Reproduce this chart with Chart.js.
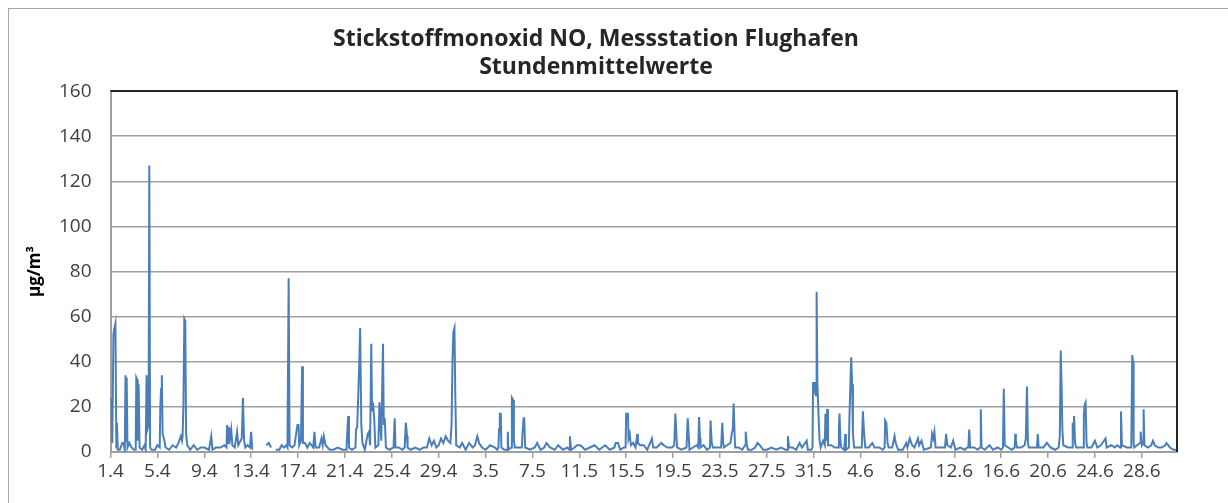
<!DOCTYPE html>
<html>
<head>
<meta charset="utf-8">
<script src="https://cdn.jsdelivr.net/npm/chart.js@4"></script>
<style>
  body { margin: 0; background: #fff; }
</style>
</head>
<body>
<canvas id="grafik" width="1228" height="503"></canvas>
<script>
// Tage seit 1.4. (x) und Stundenmittelwerte in µg/m³ (y), null = Datenlücke
const aprilWerte = [
  [0,24],[0.08,20],[0.15,4],[0.25,52],[0.3,54],[0.42,57],[0.5,2],[0.55,13],[0.62,1],[0.8,1],[1.0,4],[1.1,4],
  [1.22,1],[1.28,34],[1.33,5],[1.38,33],[1.45,2],[1.6,4],[1.8,2],[2.0,1],[2.15,1],[2.2,33],[2.28,32],[2.32,5],
  [2.4,30],[2.48,2],[2.7,1],[2.9,3],[3.0,1],[3.08,34],[3.15,10],[3.25,12],[3.31,127],[3.38,2],[3.5,1],[3.8,1],
  [4.0,3],[4.2,2],[4.25,20],[4.32,28],[4.38,34],[4.45,8],[4.6,5],[4.7,2],[5.0,1],[5.3,3],[5.6,2],[5.8,4],
  [6.0,7],[6.1,5],[6.15,7],[6.22,20],[6.3,59],[6.38,58],[6.45,8],[6.55,3],[6.8,1],[7.1,3],[7.4,1],[7.7,2],
  [8.0,2],[8.4,1],[8.6,7],[8.7,1],[9.0,2],[9.4,2],[9.7,3],[9.9,2],[9.95,12],[10.05,4],[10.1,11],[10.2,6],
  [10.3,10],[10.4,3],[10.6,2],[10.8,9],[10.9,3],[11.2,6],[11.3,24],[11.4,5],[11.5,2],[11.7,3],[11.9,2],[12.0,9],
  [12.1,1],[12.15,1],[12.7,null],[13.3,3],[13.5,4],[13.7,2],[13.9,null],[14.1,1],[14.4,1],[14.6,3],[14.8,2],
  [15.0,3],[15.1,2],[15.2,77],[15.28,3],[15.5,2],[15.7,3],[15.95,12],[16.05,12],[16.1,3],[16.25,5],[16.35,38],
  [16.42,4],[16.6,4],[16.8,2],[17.0,4],[17.3,2],[17.4,9],[17.5,2],[17.8,2],[18.0,6],[18.1,3],[18.2,7],[18.35,3],
  [18.7,1],[19.0,1],[19.4,2],[19.8,1],[20.1,1],[20.15,3],[20.28,16],[20.35,2],[20.6,1],[20.9,2],[20.95,10],
  [21.05,11],[21.22,38],[21.3,55],[21.4,12],[21.5,4],[21.7,1],[21.95,8],[22.05,9],[22.15,3],[22.25,48],[22.32,18],
  [22.4,22],[22.5,15],[22.6,2],[22.85,3],[22.95,22],[23.1,5],[23.25,48],[23.32,12],[23.4,15],[23.5,2],[23.8,1],
  [24.15,2],[24.25,15],[24.32,2],[24.6,2],[24.9,1],[25.1,2],[25.2,13],[25.3,7],[25.35,2],[25.6,1],[26.0,2],
  [26.4,1],[26.7,2],[27.0,2],[27.2,6],[27.4,3],[27.6,5],[27.8,2],[28.0,3],[28.2,6],[28.4,4],[28.6,7],[28.8,5],
  [29.0,4],[29.1,12],[29.18,40],[29.25,53],[29.35,55],[29.42,25],[29.5,3],[29.8,2]
];
const maiWerte = [
  [30.0,4],[30.3,1],[30.6,4],[30.9,2],[31.1,3],[31.3,7],[31.45,4],[31.7,2],[32.0,1],[32.4,3],[32.8,2],[33.0,1],
  [33.1,2],[33.15,10],[33.22,17],[33.3,17],[33.35,2],[33.6,1],[33.85,1],[33.9,9],[33.95,1],[34.2,2],[34.25,24],
  [34.35,23],[34.42,5],[34.5,2],[34.8,2],[35.1,2],[35.15,8],[35.25,15],[35.3,15],[35.38,2],[35.8,1],[36.2,2],
  [36.4,4],[36.7,1],[37.0,2],[37.2,4],[37.5,2],[37.9,1],[38.2,3],[38.6,1],[39.0,2],[39.15,1],[39.2,7],[39.3,1],
  [39.6,2],[39.8,3],[40.1,3],[40.5,1],[40.9,2],[41.3,3],[41.7,1],[42.2,3],[42.6,1],[43.0,2],[43.1,4],[43.3,4],
  [43.5,1],[43.8,2],[43.95,2],[44.0,17],[44.15,17],[44.2,6],[44.3,8],[44.4,3],[44.6,4],[44.8,2],[44.95,8],
  [45.0,4],[45.2,3],[45.5,3],[45.8,1],[46.2,6],[46.3,2],[46.6,2],[47.0,4],[47.2,3],[47.5,2],[47.9,2],[48.1,3],
  [48.2,17],[48.28,8],[48.35,2],[48.7,1],[49.15,2],[49.25,15],[49.35,6],[49.4,1],[49.7,2],[50.0,3],[50.15,2],
  [50.22,15.5],[50.3,6],[50.35,2],[50.6,3],[50.9,1],[51.15,2],[51.2,14],[51.3,4],[51.4,2],[51.7,2],[52.1,2],
  [52.2,13],[52.28,4],[52.35,2],[52.6,3],[52.9,4],[53.0,8],[53.1,10],[53.17,21.5],[53.25,8],[53.3,2],[53.6,2],
  [53.9,1],[54.15,3],[54.2,9],[54.3,3],[54.4,1],[54.7,1],[55.0,2],[55.2,4],[55.4,3],[55.7,1],[56.0,1],[56.4,2],
  [56.8,1],[57.2,2],[57.6,1],[57.75,1],[57.8,7],[57.9,2],[58.2,2],[58.5,1],[58.8,4],[59.0,2],[59.4,5],[59.5,1],
  [59.8,1],[59.9,2],[59.95,31],[60.05,28],[60.12,31],[60.2,25],[60.25,71],[60.32,30],[60.4,18],[60.5,5],
  [60.6,2],[60.8,5]
];
const juniWerte = [
  [60.95,3],[61.0,17],[61.08,5],[61.15,19],[61.22,3],[61.5,3],[61.8,2],[62.1,2],[62.15,10],[62.2,17],[62.28,5],
  [62.35,2],[62.6,1],[62.7,8],[62.75,1],[63.0,2],[63.05,15],[63.2,42],[63.28,30],[63.35,8],[63.45,2],[63.8,2],
  [64.1,2],[64.2,18],[64.3,8],[64.4,2],[64.7,2],[65.0,4],[65.2,2],[65.6,2],[65.9,1],[66.05,2],[66.1,14],
  [66.2,13],[66.3,4],[66.4,2],[66.7,2],[66.9,7],[67.0,4],[67.2,1],[67.6,1],[67.9,4],[68.0,2],[68.2,6],[68.4,3],
  [68.6,2],[68.9,6],[69.0,3],[69.2,5],[69.4,1],[70.0,2],[70.1,8],[70.2,6],[70.3,9],[70.4,2],[70.8,2],[71.2,2],
  [71.3,8],[71.4,3],[71.7,2],[71.9,5],[72.1,1],[72.5,2],[72.9,1],[73.1,2],[73.2,2],[73.27,10],[73.35,2],
  [73.7,2],[74.0,1],[74.2,2],[74.26,19],[74.32,2],[74.6,1],[75.0,3],[75.3,1],[75.7,2],[76.0,1],[76.15,2],
  [76.22,28],[76.3,3],[76.6,2],[76.9,1],[77.15,2],[77.2,8],[77.25,5],[77.35,2],[77.7,2],[78.0,3],[78.1,6],
  [78.2,29],[78.28,4],[78.35,2],[78.7,2],[79.05,2],[79.12,8],[79.2,2],[79.6,2],[79.9,4],[80.2,2],[80.6,1],
  [80.9,2],[81.0,7],[81.08,45],[81.15,30],[81.22,10],[81.3,3],[81.7,2],[82.05,2],[82.1,13],[82.15,6],[82.22,16],
  [82.3,4],[82.4,2],[82.7,2],[83.0,2],[83.05,16],[83.12,21],[83.2,22],[83.28,4],[83.35,2],[83.7,2],[84.0,5],
  [84.2,2],[84.5,3],[84.9,6],[85.0,2],[85.4,3],[85.7,2],[85.9,3],[86.15,2],[86.22,18],[86.3,3],[86.7,2],
  [87.1,2],[87.18,43],[87.25,40],[87.3,4],[87.35,2],[87.85,4],[87.9,9],[88.0,3],[88.1,4],[88.15,19],[88.22,3],
  [88.5,2],[88.8,3],[88.95,5],[89.1,3],[89.4,2],[89.7,2],[90.0,3],[90.1,4],[90.4,2],[90.7,1],[91.0,1]
];

const tickTage = [0,4,8,12,16,20,24,28,32,36,40,44,48,52,56,60,64,68,72,76,80,84,88];
const tickLabels = ['1.4','5.4','9.4','13.4','17.4','21.4','25.4','29.4','3.5','7.5','11.5','15.5',
  '19.5','23.5','27.5','31.5','4.6','8.6','12.6','16.6','20.6','24.6','28.6'];

const punkte = aprilWerte.concat(maiWerte, juniWerte).map(p => ({ x: p[0], y: p[1] }));

// weisser Hintergrund, Diagrammrahmen, obere/rechte Kante der Zeichenfläche
const rahmen = {
  id: 'rahmen',
  beforeDraw(chart) {
    const c = chart.ctx;
    c.save();
    c.fillStyle = '#fff';
    c.fillRect(0, 0, chart.width, chart.height);
    c.strokeStyle = '#a6a6a6';
    c.lineWidth = 1;
    c.strokeRect(8.5, 8.5, 1400, 700);
    c.restore();
  },
  afterDraw(chart) {
    const a = chart.chartArea;
    const c = chart.ctx;
    c.save();
    c.strokeStyle = '#262626';
    c.lineWidth = 2;
    c.beginPath();
    c.moveTo(a.left, a.top);
    c.lineTo(a.right, a.top);
    c.lineTo(a.right, a.bottom);
    c.stroke();
    c.restore();
  }
};

Chart.defaults.font.family = "'Open Sans', sans-serif";
Chart.defaults.color = '#404040';

new Chart(document.getElementById('grafik'), {
  type: 'line',
  data: {
    datasets: [{
      label: 'NO',
      data: punkte,
      borderColor: '#4a7ebb',
      borderWidth: 2,
      pointRadius: 0,
      tension: 0,
      spanGaps: false
    }]
  },
  options: {
    responsive: false,
    animation: false,
    layout: { padding: { left: 15, right: 51, top: 0, bottom: 15 } },
    plugins: {
      legend: { display: false },
      tooltip: { enabled: false },
      title: {
        display: true,
        text: ['Stickstoffmonoxid NO, Messstation Flughafen', 'Stundenmittelwerte'],
        color: '#262626',
        font: { size: 23, weight: 'bold', lineHeight: 1.22 },
        padding: { top: 25, bottom: 10 }
      }
    },
    scales: {
      x: {
        type: 'linear',
        min: 0,
        max: 91,
        afterBuildTicks: s => { s.ticks = tickTage.map(v => ({ value: v })); },
        afterFit: s => { s.height = 36; },
        ticks: {
          autoSkip: false,
          maxRotation: 0,
          padding: 2,
          font: { size: 19 },
          callback: (v, i) => tickLabels[i]
        },
        grid: { drawOnChartArea: false, drawTicks: true, tickLength: 6, color: '#a0a0a0', lineWidth: 1.5 },
        border: { color: '#a0a0a0', width: 2 }
      },
      y: {
        min: 0,
        max: 160,
        afterFit: s => { s.width = 95.5; },
        ticks: { stepSize: 20, padding: 19, font: { size: 19 } },
        grid: { drawTicks: false, color: '#a0a0a0', lineWidth: 1.5 },
        border: { color: '#a0a0a0', width: 2 },
        title: {
          display: true,
          text: 'µg/m³',
          color: '#000',
          font: { size: 17, weight: 'bold' },
          padding: { top: 10, bottom: 0 }
        }
      }
    }
  },
  plugins: [rahmen]
});
</script>
</body>
</html>
